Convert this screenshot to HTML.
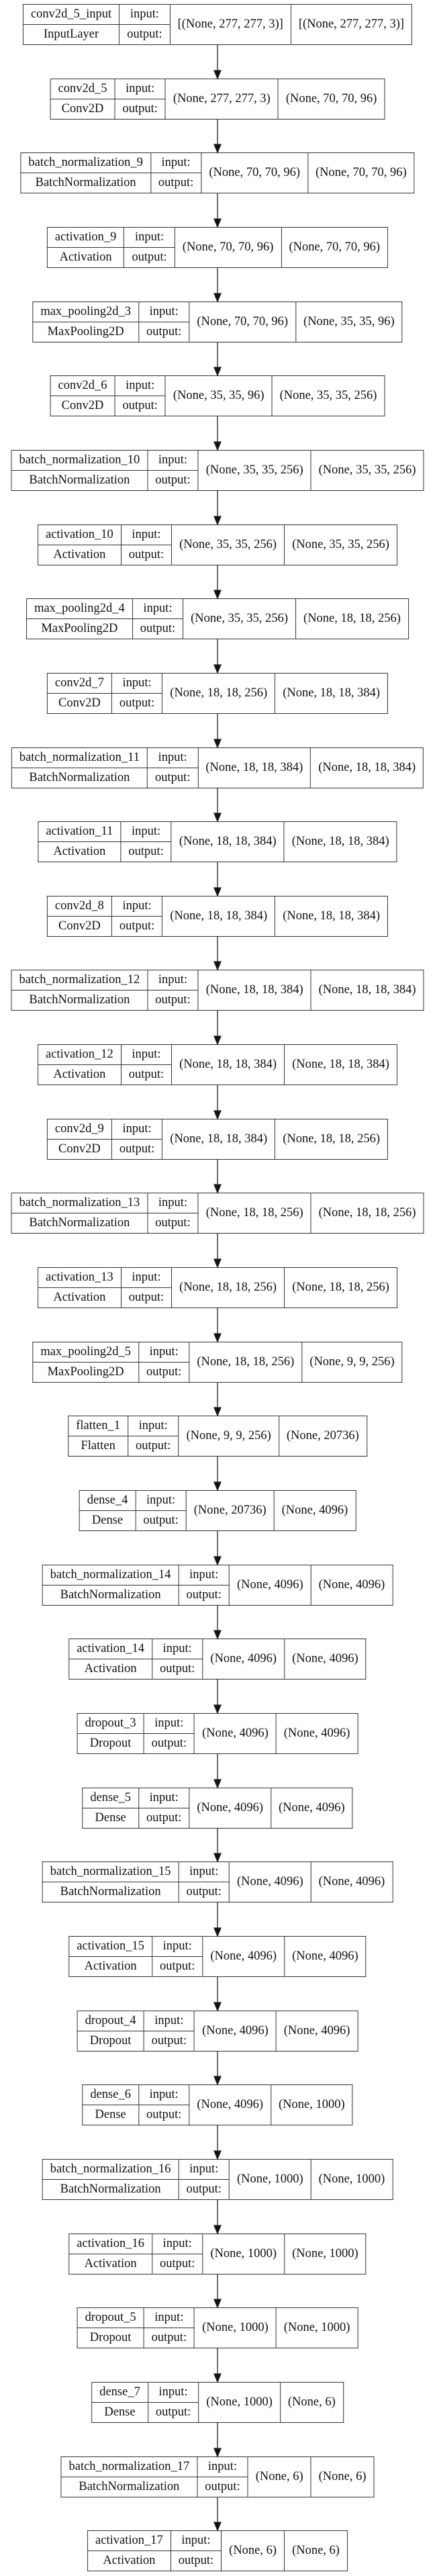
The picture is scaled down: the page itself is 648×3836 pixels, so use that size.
<!DOCTYPE html>
<html><head><meta charset="utf-8"><style>
html,body{margin:0;padding:0;background:#fff}
body{width:648px;height:3836px;position:relative;overflow:hidden}
.n{position:absolute;left:324px;transform:translateX(-50%);border-collapse:collapse;height:61px;font:18.5px "Liberation Serif",serif;white-space:nowrap;color:#111}
.n td{border:1.2px solid #333;padding:0 11px;text-align:center;height:29px;line-height:29px}
svg{position:absolute;left:0;top:0}
</style></head><body>
<svg width="648" height="3836" xmlns="http://www.w3.org/2000/svg">
<g stroke="#222" stroke-width="1.3" fill="#111">
<line x1="324" y1="67" x2="324" y2="106"/><polygon points="319,105 329,105 324,117"/>
<line x1="324" y1="178" x2="324" y2="216"/><polygon points="319,215 329,215 324,227"/>
<line x1="324" y1="288" x2="324" y2="327"/><polygon points="319,326 329,326 324,338"/>
<line x1="324" y1="399" x2="324" y2="438"/><polygon points="319,437 329,437 324,449"/>
<line x1="324" y1="510" x2="324" y2="548"/><polygon points="319,547 329,547 324,559"/>
<line x1="324" y1="620" x2="324" y2="659"/><polygon points="319,658 329,658 324,670"/>
<line x1="324" y1="731" x2="324" y2="770"/><polygon points="319,769 329,769 324,781"/>
<line x1="324" y1="842" x2="324" y2="880"/><polygon points="319,879 329,879 324,891"/>
<line x1="324" y1="952" x2="324" y2="991"/><polygon points="319,990 329,990 324,1002"/>
<line x1="324" y1="1063" x2="324" y2="1102"/><polygon points="319,1101 329,1101 324,1113"/>
<line x1="324" y1="1174" x2="324" y2="1212"/><polygon points="319,1211 329,1211 324,1223"/>
<line x1="324" y1="1284" x2="324" y2="1323"/><polygon points="319,1322 329,1322 324,1334"/>
<line x1="324" y1="1395" x2="324" y2="1433"/><polygon points="319,1432 329,1432 324,1444"/>
<line x1="324" y1="1505" x2="324" y2="1544"/><polygon points="319,1543 329,1543 324,1555"/>
<line x1="324" y1="1616" x2="324" y2="1655"/><polygon points="319,1654 329,1654 324,1666"/>
<line x1="324" y1="1727" x2="324" y2="1765"/><polygon points="319,1764 329,1764 324,1776"/>
<line x1="324" y1="1837" x2="324" y2="1876"/><polygon points="319,1875 329,1875 324,1887"/>
<line x1="324" y1="1948" x2="324" y2="1987"/><polygon points="319,1986 329,1986 324,1998"/>
<line x1="324" y1="2059" x2="324" y2="2097"/><polygon points="319,2096 329,2096 324,2108"/>
<line x1="324" y1="2169" x2="324" y2="2208"/><polygon points="319,2207 329,2207 324,2219"/>
<line x1="324" y1="2280" x2="324" y2="2319"/><polygon points="319,2318 329,2318 324,2330"/>
<line x1="324" y1="2391" x2="324" y2="2429"/><polygon points="319,2428 329,2428 324,2440"/>
<line x1="324" y1="2501" x2="324" y2="2540"/><polygon points="319,2539 329,2539 324,2551"/>
<line x1="324" y1="2612" x2="324" y2="2651"/><polygon points="319,2650 329,2650 324,2662"/>
<line x1="324" y1="2723" x2="324" y2="2761"/><polygon points="319,2760 329,2760 324,2772"/>
<line x1="324" y1="2833" x2="324" y2="2872"/><polygon points="319,2871 329,2871 324,2883"/>
<line x1="324" y1="2944" x2="324" y2="2983"/><polygon points="319,2982 329,2982 324,2994"/>
<line x1="324" y1="3055" x2="324" y2="3093"/><polygon points="319,3092 329,3092 324,3104"/>
<line x1="324" y1="3165" x2="324" y2="3204"/><polygon points="319,3203 329,3203 324,3215"/>
<line x1="324" y1="3276" x2="324" y2="3315"/><polygon points="319,3314 329,3314 324,3326"/>
<line x1="324" y1="3387" x2="324" y2="3425"/><polygon points="319,3424 329,3424 324,3436"/>
<line x1="324" y1="3497" x2="324" y2="3536"/><polygon points="319,3535 329,3535 324,3547"/>
<line x1="324" y1="3608" x2="324" y2="3647"/><polygon points="319,3646 329,3646 324,3658"/>
<line x1="324" y1="3719" x2="324" y2="3757"/><polygon points="319,3756 329,3756 324,3768"/>
</g></svg>

<table class="n" style="top:6px"><tr><td>conv2d_5_input</td><td>input:</td><td rowspan="2">[(None, 277, 277, 3)]</td><td rowspan="2">[(None, 277, 277, 3)]</td></tr><tr><td>InputLayer</td><td>output:</td></tr></table>
<table class="n" style="top:117px"><tr><td>conv2d_5</td><td>input:</td><td rowspan="2">(None, 277, 277, 3)</td><td rowspan="2">(None, 70, 70, 96)</td></tr><tr><td>Conv2D</td><td>output:</td></tr></table>
<table class="n" style="top:227px"><tr><td>batch_normalization_9</td><td>input:</td><td rowspan="2">(None, 70, 70, 96)</td><td rowspan="2">(None, 70, 70, 96)</td></tr><tr><td>BatchNormalization</td><td>output:</td></tr></table>
<table class="n" style="top:338px"><tr><td>activation_9</td><td>input:</td><td rowspan="2">(None, 70, 70, 96)</td><td rowspan="2">(None, 70, 70, 96)</td></tr><tr><td>Activation</td><td>output:</td></tr></table>
<table class="n" style="top:449px"><tr><td>max_pooling2d_3</td><td>input:</td><td rowspan="2">(None, 70, 70, 96)</td><td rowspan="2">(None, 35, 35, 96)</td></tr><tr><td>MaxPooling2D</td><td>output:</td></tr></table>
<table class="n" style="top:559px"><tr><td>conv2d_6</td><td>input:</td><td rowspan="2">(None, 35, 35, 96)</td><td rowspan="2">(None, 35, 35, 256)</td></tr><tr><td>Conv2D</td><td>output:</td></tr></table>
<table class="n" style="top:670px"><tr><td>batch_normalization_10</td><td>input:</td><td rowspan="2">(None, 35, 35, 256)</td><td rowspan="2">(None, 35, 35, 256)</td></tr><tr><td>BatchNormalization</td><td>output:</td></tr></table>
<table class="n" style="top:781px"><tr><td>activation_10</td><td>input:</td><td rowspan="2">(None, 35, 35, 256)</td><td rowspan="2">(None, 35, 35, 256)</td></tr><tr><td>Activation</td><td>output:</td></tr></table>
<table class="n" style="top:891px"><tr><td>max_pooling2d_4</td><td>input:</td><td rowspan="2">(None, 35, 35, 256)</td><td rowspan="2">(None, 18, 18, 256)</td></tr><tr><td>MaxPooling2D</td><td>output:</td></tr></table>
<table class="n" style="top:1002px"><tr><td>conv2d_7</td><td>input:</td><td rowspan="2">(None, 18, 18, 256)</td><td rowspan="2">(None, 18, 18, 384)</td></tr><tr><td>Conv2D</td><td>output:</td></tr></table>
<table class="n" style="top:1113px"><tr><td>batch_normalization_11</td><td>input:</td><td rowspan="2">(None, 18, 18, 384)</td><td rowspan="2">(None, 18, 18, 384)</td></tr><tr><td>BatchNormalization</td><td>output:</td></tr></table>
<table class="n" style="top:1223px"><tr><td>activation_11</td><td>input:</td><td rowspan="2">(None, 18, 18, 384)</td><td rowspan="2">(None, 18, 18, 384)</td></tr><tr><td>Activation</td><td>output:</td></tr></table>
<table class="n" style="top:1334px"><tr><td>conv2d_8</td><td>input:</td><td rowspan="2">(None, 18, 18, 384)</td><td rowspan="2">(None, 18, 18, 384)</td></tr><tr><td>Conv2D</td><td>output:</td></tr></table>
<table class="n" style="top:1444px"><tr><td>batch_normalization_12</td><td>input:</td><td rowspan="2">(None, 18, 18, 384)</td><td rowspan="2">(None, 18, 18, 384)</td></tr><tr><td>BatchNormalization</td><td>output:</td></tr></table>
<table class="n" style="top:1555px"><tr><td>activation_12</td><td>input:</td><td rowspan="2">(None, 18, 18, 384)</td><td rowspan="2">(None, 18, 18, 384)</td></tr><tr><td>Activation</td><td>output:</td></tr></table>
<table class="n" style="top:1666px"><tr><td>conv2d_9</td><td>input:</td><td rowspan="2">(None, 18, 18, 384)</td><td rowspan="2">(None, 18, 18, 256)</td></tr><tr><td>Conv2D</td><td>output:</td></tr></table>
<table class="n" style="top:1776px"><tr><td>batch_normalization_13</td><td>input:</td><td rowspan="2">(None, 18, 18, 256)</td><td rowspan="2">(None, 18, 18, 256)</td></tr><tr><td>BatchNormalization</td><td>output:</td></tr></table>
<table class="n" style="top:1887px"><tr><td>activation_13</td><td>input:</td><td rowspan="2">(None, 18, 18, 256)</td><td rowspan="2">(None, 18, 18, 256)</td></tr><tr><td>Activation</td><td>output:</td></tr></table>
<table class="n" style="top:1998px"><tr><td>max_pooling2d_5</td><td>input:</td><td rowspan="2">(None, 18, 18, 256)</td><td rowspan="2">(None, 9, 9, 256)</td></tr><tr><td>MaxPooling2D</td><td>output:</td></tr></table>
<table class="n" style="top:2108px"><tr><td>flatten_1</td><td>input:</td><td rowspan="2">(None, 9, 9, 256)</td><td rowspan="2">(None, 20736)</td></tr><tr><td>Flatten</td><td>output:</td></tr></table>
<table class="n" style="top:2219px"><tr><td>dense_4</td><td>input:</td><td rowspan="2">(None, 20736)</td><td rowspan="2">(None, 4096)</td></tr><tr><td>Dense</td><td>output:</td></tr></table>
<table class="n" style="top:2330px"><tr><td>batch_normalization_14</td><td>input:</td><td rowspan="2">(None, 4096)</td><td rowspan="2">(None, 4096)</td></tr><tr><td>BatchNormalization</td><td>output:</td></tr></table>
<table class="n" style="top:2440px"><tr><td>activation_14</td><td>input:</td><td rowspan="2">(None, 4096)</td><td rowspan="2">(None, 4096)</td></tr><tr><td>Activation</td><td>output:</td></tr></table>
<table class="n" style="top:2551px"><tr><td>dropout_3</td><td>input:</td><td rowspan="2">(None, 4096)</td><td rowspan="2">(None, 4096)</td></tr><tr><td>Dropout</td><td>output:</td></tr></table>
<table class="n" style="top:2662px"><tr><td>dense_5</td><td>input:</td><td rowspan="2">(None, 4096)</td><td rowspan="2">(None, 4096)</td></tr><tr><td>Dense</td><td>output:</td></tr></table>
<table class="n" style="top:2772px"><tr><td>batch_normalization_15</td><td>input:</td><td rowspan="2">(None, 4096)</td><td rowspan="2">(None, 4096)</td></tr><tr><td>BatchNormalization</td><td>output:</td></tr></table>
<table class="n" style="top:2883px"><tr><td>activation_15</td><td>input:</td><td rowspan="2">(None, 4096)</td><td rowspan="2">(None, 4096)</td></tr><tr><td>Activation</td><td>output:</td></tr></table>
<table class="n" style="top:2994px"><tr><td>dropout_4</td><td>input:</td><td rowspan="2">(None, 4096)</td><td rowspan="2">(None, 4096)</td></tr><tr><td>Dropout</td><td>output:</td></tr></table>
<table class="n" style="top:3104px"><tr><td>dense_6</td><td>input:</td><td rowspan="2">(None, 4096)</td><td rowspan="2">(None, 1000)</td></tr><tr><td>Dense</td><td>output:</td></tr></table>
<table class="n" style="top:3215px"><tr><td>batch_normalization_16</td><td>input:</td><td rowspan="2">(None, 1000)</td><td rowspan="2">(None, 1000)</td></tr><tr><td>BatchNormalization</td><td>output:</td></tr></table>
<table class="n" style="top:3326px"><tr><td>activation_16</td><td>input:</td><td rowspan="2">(None, 1000)</td><td rowspan="2">(None, 1000)</td></tr><tr><td>Activation</td><td>output:</td></tr></table>
<table class="n" style="top:3436px"><tr><td>dropout_5</td><td>input:</td><td rowspan="2">(None, 1000)</td><td rowspan="2">(None, 1000)</td></tr><tr><td>Dropout</td><td>output:</td></tr></table>
<table class="n" style="top:3547px"><tr><td>dense_7</td><td>input:</td><td rowspan="2">(None, 1000)</td><td rowspan="2">(None, 6)</td></tr><tr><td>Dense</td><td>output:</td></tr></table>
<table class="n" style="top:3658px"><tr><td>batch_normalization_17</td><td>input:</td><td rowspan="2">(None, 6)</td><td rowspan="2">(None, 6)</td></tr><tr><td>BatchNormalization</td><td>output:</td></tr></table>
<table class="n" style="top:3768px"><tr><td>activation_17</td><td>input:</td><td rowspan="2">(None, 6)</td><td rowspan="2">(None, 6)</td></tr><tr><td>Activation</td><td>output:</td></tr></table>
</body></html>
